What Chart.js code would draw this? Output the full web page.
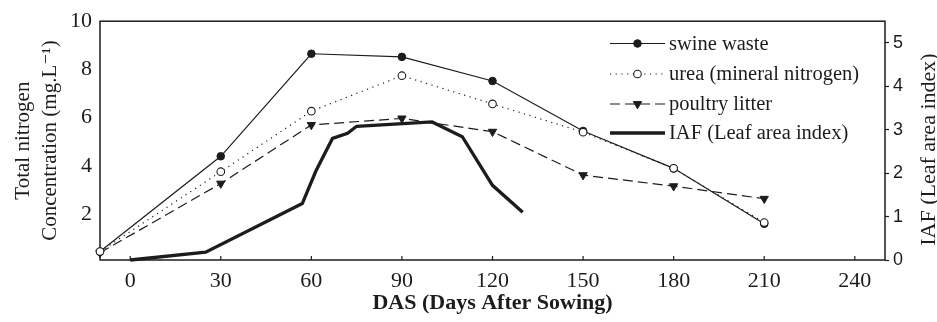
<!DOCTYPE html>
<html>
<head>
<meta charset="utf-8">
<script src="https://cdn.jsdelivr.net/npm/chart.js@4/dist/chart.umd.min.js"></script>
<style>
  html, body { margin: 0; padding: 0; background: #fff; }
  #wrap { width: 937px; height: 322px; }
</style>
</head>
<body>
<div id="wrap"><canvas id="nChart"></canvas></div>
<script>
// Nitrogen data (mg/L) at sampling days
const das = [-10, 30, 60, 90, 120, 150, 180, 210];
const swineWaste = [0.45, 4.4, 8.65, 8.52, 7.52, 5.45, 3.9, 1.6];
const urea = [0.45, 3.76, 6.27, 7.74, 6.57, 5.4, 3.9, 1.65];
const poultryLitter = [0.4, 3.27, 5.7, 5.97, 5.42, 3.62, 3.16, 2.64];

// Leaf area index curve (right axis)
const iafDays = [0, 25, 57, 61.5, 67, 72, 75, 100, 110, 120, 130];
const iafValues = [0, 0.18, 1.3, 2.05, 2.8, 2.92, 3.08, 3.18, 2.84, 1.72, 1.1];

// Axis ticks
const xTicks = [0, 30, 60, 90, 120, 150, 180, 210, 240];
const leftTicks = [2, 4, 6, 8, 10];
const rightTicks = [0, 1, 2, 3, 4, 5];

const ink = "#1c1c1c";
const serif = "'Liberation Serif', 'DejaVu Serif', serif";

const toPoints = (xs, ys) => xs.map((x, i) => ({ x: x, y: ys[i] }));

// Frame, inward x ticks, right title and legend
const decorations = {
  id: "decorations",
  beforeDatasetsDraw(chart) {
    const { ctx, chartArea: a, scales } = chart;
    ctx.save();
    ctx.strokeStyle = ink;
    ctx.lineWidth = 1.5;
    ctx.strokeRect(a.left, a.top, a.right - a.left, a.bottom - a.top);
    ctx.lineWidth = 1.2;
    xTicks.forEach((v) => {
      const px = scales.x.getPixelForValue(v);
      ctx.beginPath();
      ctx.moveTo(px, a.bottom);
      ctx.lineTo(px, a.bottom - 4);
      ctx.stroke();
    });
    ctx.restore();
  },
  afterDraw(chart) {
    const { ctx, chartArea: a } = chart;
    ctx.save();
    // right axis title, reading bottom to top
    ctx.translate(929, (a.top + a.bottom) / 2 + 9);
    ctx.rotate(-Math.PI / 2);
    ctx.fillStyle = ink;
    ctx.font = "22px " + serif;
    ctx.textAlign = "center";
    ctx.textBaseline = "middle";
    ctx.fillText("IAF (Leaf area index)", 0, 0);
    ctx.restore();

    // legend
    const rows = [43.5, 74, 104, 133];
    chart.data.datasets.forEach((ds, i) => {
      const y = rows[i];
      ctx.save();
      ctx.strokeStyle = ink;
      ctx.lineWidth = ds.borderWidth;
      ctx.setLineDash(ds.borderDash || []);
      ctx.beginPath();
      ctx.moveTo(610, y);
      ctx.lineTo(665, y);
      ctx.stroke();
      ctx.setLineDash([]);
      if (ds.pointRadius > 0) {
        ctx.fillStyle = ds.pointBackgroundColor;
        ctx.strokeStyle = ink;
        ctx.lineWidth = ds.pointBorderWidth;
        Chart.helpers.drawPoint(ctx, {
          pointStyle: ds.pointStyle,
          radius: ds.pointRadius,
          rotation: ds.pointRotation || 0,
          borderWidth: ds.pointBorderWidth,
        }, 637.5, y);
      }
      ctx.fillStyle = ink;
      ctx.font = "20.5px " + serif;
      ctx.textAlign = "left";
      ctx.textBaseline = "middle";
      ctx.fillText(ds.label, 669, y + 1);
      ctx.restore();
    });
  },
};

new Chart(document.getElementById("nChart"), {
  type: "line",
  data: {
    datasets: [
      {
        label: "swine waste",
        data: toPoints(das, swineWaste),
        yAxisID: "y",
        borderColor: ink,
        borderWidth: 1.2,
        pointStyle: "circle",
        pointRadius: 3.8,
        pointBackgroundColor: ink,
        pointBorderColor: ink,
        pointBorderWidth: 1,
        order: 3,
        clip: false,
      },
      {
        label: "urea (mineral nitrogen)",
        data: toPoints(das, urea),
        yAxisID: "y",
        borderColor: ink,
        borderWidth: 1.2,
        borderDash: [1.2, 4.5],
        pointStyle: "circle",
        pointRadius: 3.8,
        pointBackgroundColor: "#ffffff",
        pointBorderColor: ink,
        pointBorderWidth: 1.1,
        order: 1,
        clip: false,
      },
      {
        label: "poultry litter",
        data: toPoints(das, poultryLitter),
        yAxisID: "y",
        borderColor: ink,
        borderWidth: 1.2,
        borderDash: [10, 5],
        pointStyle: "triangle",
        pointRotation: 180,
        pointRadius: 4.8,
        pointBackgroundColor: ink,
        pointBorderColor: ink,
        pointBorderWidth: 1,
        order: 2,
        clip: false,
      },
      {
        label: "IAF (Leaf area index)",
        data: toPoints(iafDays, iafValues),
        yAxisID: "y1",
        borderColor: ink,
        borderWidth: 3.3,
        pointRadius: 0,
        borderJoinStyle: "miter",
        order: 4,
        clip: false,
      },
    ],
  },
  options: {
    responsive: true,
    maintainAspectRatio: false,
    animation: false,
    layout: { padding: { top: 18, left: 0, right: 0, bottom: 0 } },
    plugins: {
      legend: { display: false },
      tooltip: { enabled: false },
    },
    elements: { line: { tension: 0 } },
    scales: {
      x: {
        type: "linear",
        position: "bottom",
        min: -10,
        max: 250,
        afterBuildTicks: (scale) => {
          scale.ticks = xTicks.map((v) => ({ value: v }));
        },
        afterFit: (scale) => {
          scale.height = 62;
        },
        grid: { display: false, drawTicks: false },
        border: { display: false },
        ticks: {
          color: ink,
          padding: 8,
          maxRotation: 0,
          font: { family: serif, size: 22 },
        },
        title: {
          display: true,
          text: "DAS (Days After Sowing)",
          color: ink,
          font: { family: serif, size: 22, weight: "bold" },
          padding: { top: 0, bottom: 5 },
        },
      },
      y: {
        type: "linear",
        position: "left",
        min: 0.1,
        max: 10,
        afterBuildTicks: (scale) => {
          scale.ticks = leftTicks.map((v) => ({ value: v }));
        },
        afterFit: (scale) => {
          scale.width = 100;
        },
        grid: { display: false, drawTicks: false },
        border: { display: false },
        ticks: {
          color: ink,
          padding: 8,
          font: { family: serif, size: 22 },
        },
        title: {
          display: true,
          text: ["Total nitrogen", "Concentration (mg.L\u207B\u00B9)"],
          color: ink,
          font: { family: serif, size: 21, lineHeight: 1.29 },
          padding: { top: 9.5, bottom: 0 },
        },
      },
      y1: {
        type: "linear",
        position: "right",
        min: 0,
        max: 5.5,
        afterBuildTicks: (scale) => {
          scale.ticks = rightTicks.map((v) => ({ value: v }));
        },
        afterFit: (scale) => {
          scale.width = 52;
        },
        grid: {
          display: true,
          drawOnChartArea: false,
          drawTicks: true,
          tickLength: 4,
          tickColor: ink,
          tickWidth: 1.2,
        },
        border: { display: false },
        ticks: {
          color: ink,
          padding: 4,
          font: { family: "'Liberation Sans', Arial, sans-serif", size: 18 },
        },
      },
    },
  },
  plugins: [decorations],
});
</script>
</body>
</html>
